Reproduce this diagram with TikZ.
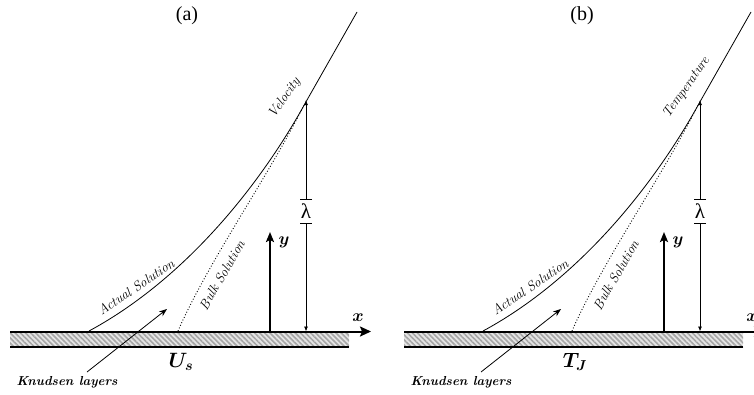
\documentclass[tikz,border=0pt]{standalone}
\usepackage{amsmath,amssymb,bm}
\usepackage{fontspec}
\newfontfamily\timesfont{Liberation Serif}
\usetikzlibrary{arrows.meta,patterns.meta}

\tikzset{
  wall/.style={line width=2pt},
  solution/.style={line width=0.8pt},
  bulk/.style={line width=0.9pt,dotted},
  dimline/.style={line width=0.8pt},
  curvelabel/.style={font=\fontsize{13.5}{15}\selectfont\itshape,inner sep=1pt},
  knudlabel/.style={font=\fontsize{13}{15}\selectfont\bfseries\itshape,inner sep=1pt},
  axislabel/.style={font=\fontsize{18}{20}\selectfont,inner sep=0pt},
  varlabel/.style={font=\fontsize{20}{22}\selectfont,inner sep=0pt},
  lamlabel/.style={font=\timesfont\fontsize{21}{22}\selectfont,inner sep=0pt,minimum height=23pt},
  panellabel/.style={font=\timesfont\fontsize{20}{22}\selectfont,inner sep=0pt}
}

\begin{document}
\begin{tikzpicture}[x=1pt,y=-1pt]
  \useasboundingbox (0,0) rectangle (754,394);
  \foreach \p/\pname/\pvar in {0/Velocity/U_s,394/Temperature/T_J}{
  \begin{scope}[shift={(\p,0)}]
    % wall
    \fill[gray!20] (10,332) rectangle (349,347);
    \fill[pattern={Lines[angle=-45,distance=3.6pt,line width=1.6pt]},pattern color=gray!70]
      (10,332) rectangle (349,347);
    \draw[wall] (10,347) -- (349,347);
    \coordinate (o\p) at (10,331.5);
    \coordinate (xe\p) at (371,331.5);
    \draw[wall,-{Stealth[length=11pt,width=10pt,inset=2pt]}] (o\p) -- (xe\p);
    \node[axislabel] (xl\p) at (358,318) {$\bm{x}$};
    % y axis
    \coordinate (yb\p) at (270,331.5);
    \coordinate (yt\p) at (270,232);
    \draw[wall,-{Stealth[length=10pt,width=8pt,inset=2pt]}] (yb\p) -- (yt\p);
    \node[axislabel] (yl\p) at (284,242) {$\bm{y}$};
    % actual and bulk solutions
    \draw[solution] (89,331) .. controls (178,283) and (255,195) .. (307,100) -- (357,12);
    \draw[bulk] (178,331) .. controls (208,262) and (270,174) .. (304,105);
    % labels
    \node[curvelabel,rotate=55,anchor=south west] (cv\p) at (277,122) {\pname};
    \node[curvelabel,rotate=34] (as\p) at (136,287) {Actual Solution};
    \node[curvelabel,rotate=60] (bs\p) at (222,275) {Bulk Solution};
    \node[varlabel] (wv\p) at (181,362) {$\bm{\pvar}$};
    % lambda
    \coordinate (lt\p) at (306,100);
    \coordinate (lb\p) at (306,331.5);
    \node[lamlabel] (lam\p) at (306,211.5) {λ};
    \draw[dimline,{Bar[width=12pt]}-{Latex[length=5pt,width=4pt]}] (lam\p.north) -- (lt\p);
    \draw[dimline,{Bar[width=12pt]}-{Latex[length=5pt,width=4pt]}] (lam\p.south) -- (lb\p);
    % Knudsen layers
    \node[knudlabel] (kn\p) at (67,382) {Knudsen layers};
    \coordinate (kt\p) at (87,372);
    \coordinate (kh\p) at (167,309);
    \draw[dimline,-{Stealth[length=8pt,width=6pt]}] (kt\p) -- (kh\p);
  \end{scope}
  }
  \node[panellabel] (pa) at (187,16) {(a)};
  \node[panellabel] (pb) at (582,16) {(b)};
\end{tikzpicture}
\end{document}
